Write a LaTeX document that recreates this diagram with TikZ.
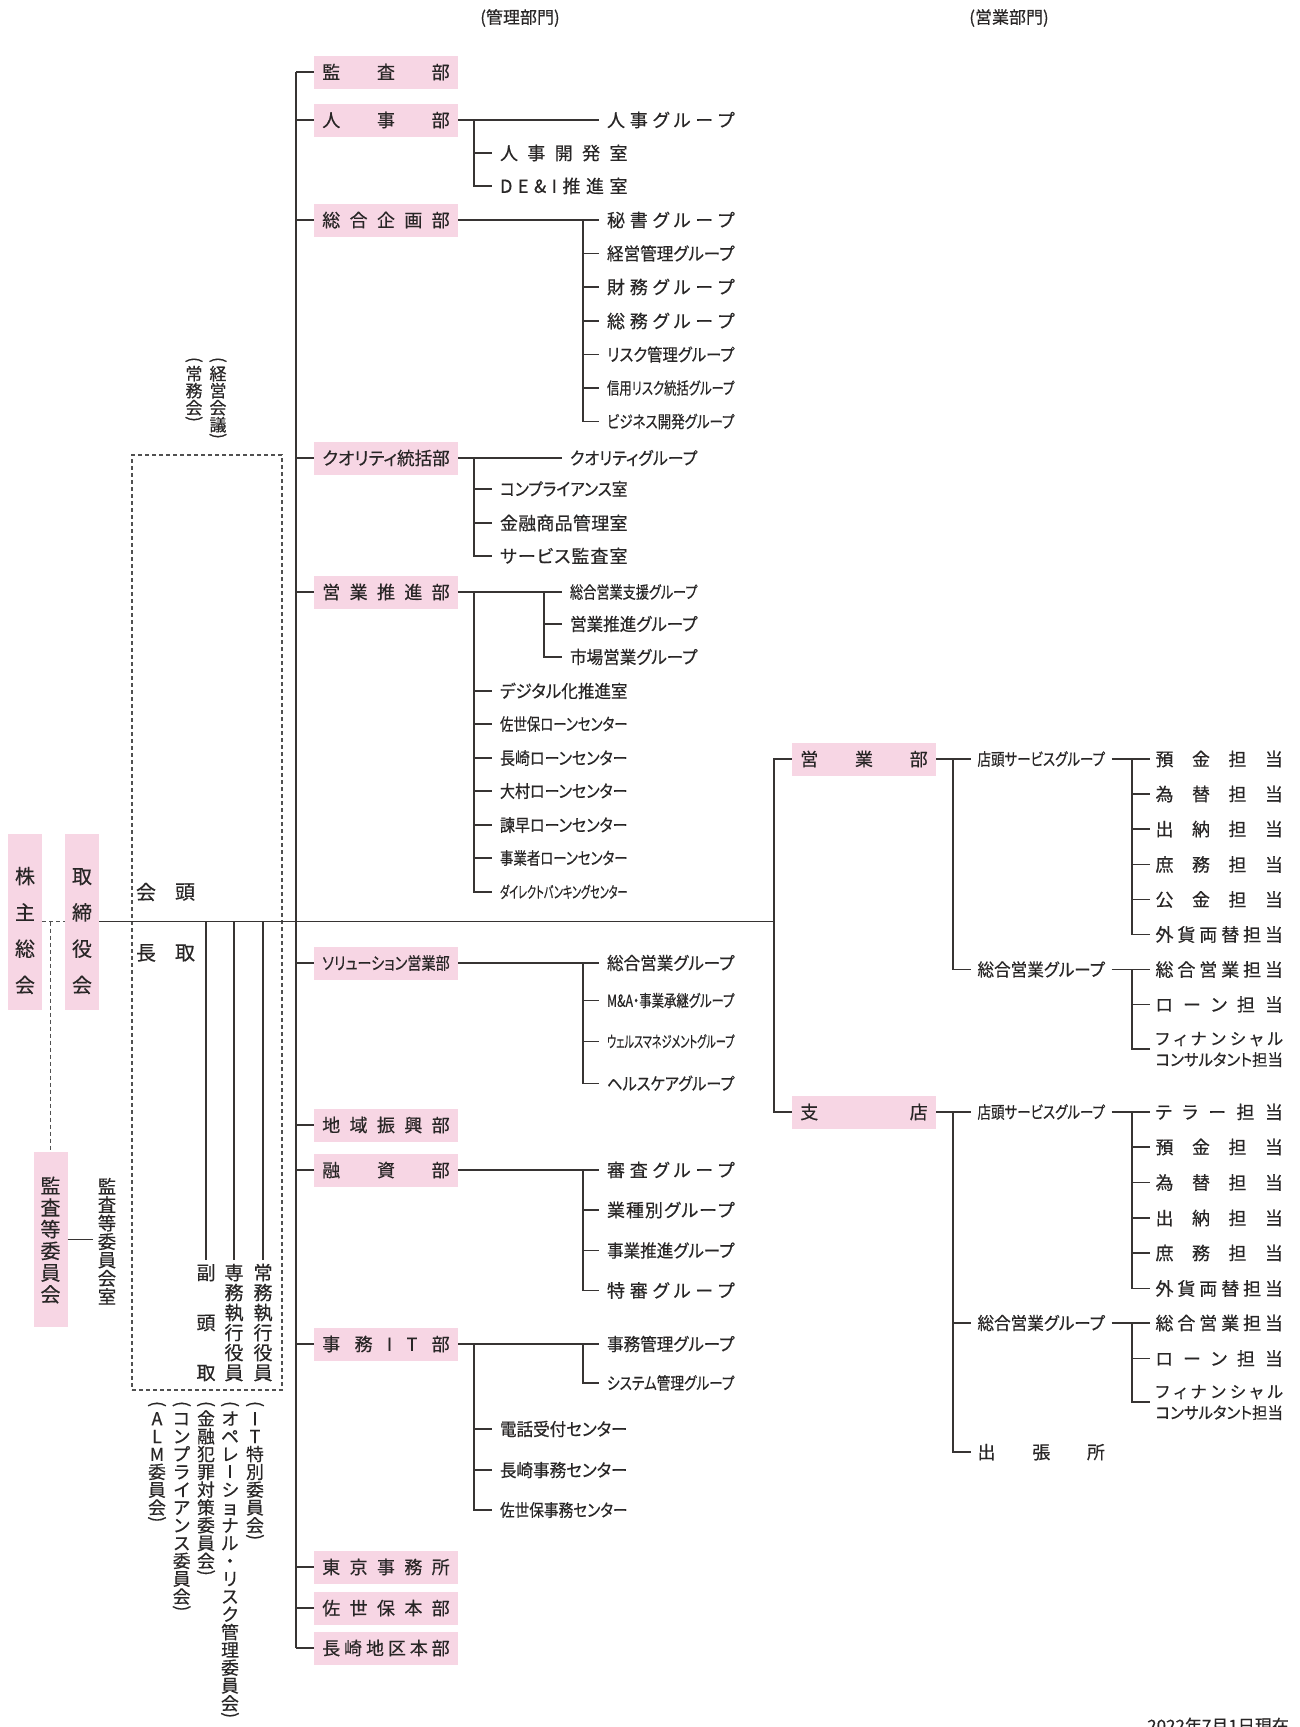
\documentclass[tikz,border=0pt]{standalone}
\usepackage{fontspec}
\usepackage{graphicx}
\setmainfont[RawFeature=+palt, FakeBold=0.4]{Noto Sans CJK JP}
\definecolor{pinkc}{RGB}{247,214,228}
\definecolor{linec}{RGB}{55,52,51}
\definecolor{txtc}{RGB}{40,38,38}
\definecolor{dashc}{RGB}{80,80,80}
\newcommand\fs[1]{\fontsize{#1}{#1}\selectfont}
\newcommand\mystrut{\vrule height .88em depth .12em width 0pt\relax}
\ExplSyntaxOn
\box_new:N \l_my_fit_box
\tl_new:N \l_my_h_tl
\tl_new:N \l_my_v_tl
\NewDocumentCommand \jt { m m }
  {
    \hbox_to_wd:nn {#1}
      { \mystrut \tl_map_inline:nn {#2} { ##1 \hfill } \unskip }
  }
\NewDocumentCommand \fitw { m m }
  {
    \hbox_set:Nn \l_my_fit_box { \mystrut #2 }
    \dim_compare:nNnTF { \box_wd:N \l_my_fit_box } > { #1 }
      {
        \tl_set:Nx \l_my_h_tl
          { \fp_eval:n { \dim_to_fp:n {#1} / \dim_to_fp:n { \box_wd:N \l_my_fit_box } } }
        \tl_set:Nx \l_my_v_tl { \fp_eval:n { ( \l_my_h_tl ) ^ ( 0.2 ) } }
        \scalebox { \l_my_h_tl } [ \l_my_v_tl ] { \box_use:N \l_my_fit_box }
      }
      { \jt {#1} {#2} }
  }
\cs_new_protected:Npn \my_vchar:n #1
  {
    \str_case:nnF {#1}
      {
        { ( } { \hbox_to_wd:nn {1em} { \hss \rotatebox [origin=c] {-90} {(} \hss } }
        { ) } { \hbox_to_wd:nn {1em} { \hss \rotatebox [origin=c] {-90} {)} \hss } }
        { ー } { \hbox_to_wd:nn {1em} { \hss \mystrut \vrule height .79em depth -.03em width .07em \hss } }
      }
      { \hbox_to_wd:nn {1em} { \hss \mystrut #1 \hss } }
  }
\NewDocumentCommand \vtxt { O{0pt} m }
  {
    \vbox:n
      {
        \offinterlineskip
        \tl_map_inline:nn {#2} { \my_vchar:n {##1} \kern #1 \scan_stop: }
        \unkern
      }
  }
\ExplSyntaxOff
\newcommand\W[1]{\fitw{127.5pt}{#1}}
\tikzset{
  ln/.style={draw=linec, line width=1.6pt},
  dln/.style={draw=dashc, line width=1.1pt, dash pattern=on 4pt off 3pt},
  pbox/.style={fill=pinkc, inner xsep=8.25pt, inner ysep=0pt, minimum height=33pt, text=txtc, font=\fs{18}},
  pvbox/.style={fill=pinkc, minimum width=34pt, inner sep=0pt},
  leaf/.style={anchor=west, inner sep=0pt, outer xsep=#1, outer ysep=0pt, text=txtc, font=\fs{18}},
  leaf/.default=8.5pt,
  vt/.style={inner sep=0pt, outer sep=0pt, text=txtc},
  hdr/.style={inner sep=0pt, text=txtc, font=\fs{17}},
}
\begin{document}
\begin{tikzpicture}[x=1pt,y=-1pt]
\fill[white] (0,0) rectangle (1299,1727);
\useasboundingbox (0,0) rectangle (1299,1727);
\clip (0,0) rectangle (1299,1727);
% coordinates for buses
\coordinate (trunk) at (296,0);
\coordinate (bA) at (474,0);
\coordinate (bB) at (583,0);
\coordinate (bC) at (544,0);
\coordinate (rbus) at (774,0);
\coordinate (rb1) at (953,0);
\coordinate (rb2) at (1131.7,0);
% headers
\node[hdr] (hdrK) at (520,18) {(管理部門)};
\node[hdr] (hdrE) at (1009,18) {(営業部門)};
% dashed management box
\node[dln, minimum width=150pt, minimum height=935pt, inner sep=0pt] (kaigi) at (207,922.5) {};
\node[vt, anchor=north, font=\fs{17}] (keieiK) at (218,357) {\vtxt{(経営会議)}};
\node[vt, anchor=north, font=\fs{17}] (jomuK) at (194,357) {\vtxt{(常務会)}};
% left boxes
\node[pvbox, minimum height=176pt] (kabu) at (25,921.5) {};
\node[vt, font=\fs{20}] (kabuT) at (25,930.5) {\vtxt[16.3pt]{株主総会}};
\node[pvbox, minimum height=176pt] (tori) at (82,921.5) {};
\node[vt, font=\fs{20}] (toriT) at (82,930.5) {\vtxt[16.3pt]{取締役会}};
\node[pvbox, minimum height=175pt] (kansaI) at (50.5,1239.5) {};
\node[vt, font=\fs{20}] (kansaIT) at (50.5,1240) {\vtxt[1.7pt]{監査等委員会}};
\node[vt, font=\fs{18.4}, outer xsep=4.8pt] (room) at (107,1241.5) {\vtxt{監査等委員会室}};
% chairman / president
\node[vt, font=\fs{20}] (kaiT) at (146,892) {会};
\node[vt, font=\fs{20}] (toT) at (185,892) {頭};
\node[vt, font=\fs{20}] (choT) at (146,953) {長};
\node[vt, font=\fs{20}] (doriT) at (185,953) {取};
% executives
\node[vt, anchor=north, outer ysep=3pt, font=\fs{19}] (fuku) at (206,1260) {\vtxt[31pt]{副頭取}};
\node[vt, anchor=north, outer ysep=3pt, font=\fs{19}] (senmu) at (234,1260) {\vtxt[1pt]{専務執行役員}};
\node[vt, anchor=north, outer ysep=3pt, font=\fs{19}] (jomu) at (263,1260) {\vtxt[1pt]{常務執行役員}};
% committees
\node[vt, anchor=north, font=\fs{17.8}] (itC) at (255,1401) {\vtxt{(IT特別委員会)}};
\node[vt, anchor=north, font=\fs{17.8}] (opC) at (230,1401) {\vtxt{(オペレーショナル・リスク管理委員会)}};
\node[vt, anchor=north, font=\fs{17.8}] (finC) at (206,1401) {\vtxt{(金融犯罪対策委員会)}};
\node[vt, anchor=north, font=\fs{17.8}] (compC) at (181.7,1401) {\vtxt{(コンプライアンス委員会)}};
\node[vt, anchor=north, font=\fs{17.8}] (almC) at (157,1401) {\vtxt{(ALM委員会)}};
% department boxes
\node[pbox] (kansa) at (386,72) {\W{監査部}};
\node[pbox] (jinji) at (386,120) {\W{人事部}};
\node[pbox] (kikaku) at (386,220) {\W{総合企画部}};
\node[pbox] (quality) at (386,458) {\W{クオリティ統括部}};
\node[pbox] (suishin) at (386,592) {\W{営業推進部}};
\node[pbox] (solution) at (386,963) {\W{ソリューション営業部}};
\node[pbox] (chiiki) at (386,1125) {\W{地域振興部}};
\node[pbox] (yushi) at (386,1170) {\W{融資部}};
\node[pbox] (jimu) at (386,1344) {\W{事務IT部}};
\node[pbox] (tokyo) at (386,1567) {\W{東京事務所}};
\node[pbox] (sasebo) at (386,1608) {\W{佐世保本部}};
\node[pbox] (nagaHQ) at (386,1648) {\W{長崎地区本部}};
% column A
\node[leaf] (kaihatsu) at (491.5,153) {\W{人事開発室}};
\node[leaf] (dei) at (491.5,186) {\W{DE\&I推進室}};
\node[leaf] (compl) at (491.5,489) {\W{コンプライアンス室}};
\node[leaf] (kinyu) at (491.5,523) {\W{金融商品管理室}};
\node[leaf] (service) at (491.5,556) {\W{サービス監査室}};
\node[leaf] (digital) at (491.5,691) {\W{デジタル化推進室}};
\node[leaf] (sasebL) at (491.5,724) {\W{佐世保ローンセンター}};
\node[leaf] (nagaL) at (491.5,758) {\W{長崎ローンセンター}};
\node[leaf] (omura) at (491.5,791) {\W{大村ローンセンター}};
\node[leaf] (isahaya) at (491.5,825) {\W{諫早ローンセンター}};
\node[leaf] (jigyoL) at (491.5,858) {\W{事業者ローンセンター}};
\node[leaf] (direct) at (491.5,892) {\W{ダイレクトバンキングセンター}};
\node[leaf] (denwa) at (491.5,1429) {\W{電話受付センター}};
\node[leaf] (nagaJ) at (491.5,1470) {\W{長崎事務センター}};
\node[leaf] (sasebJ) at (491.5,1510) {\W{佐世保事務センター}};
% column B
\node[leaf] (jinjiG) at (598.5,120) {\W{人事グループ}};
\node[leaf] (hisho) at (598.5,220) {\W{秘書グループ}};
\node[leaf] (keiei) at (598.5,253.5) {\W{経営管理グループ}};
\node[leaf] (zaimu) at (598.5,287) {\W{財務グループ}};
\node[leaf] (somu) at (598.5,321) {\W{総務グループ}};
\node[leaf] (risk) at (598.5,354.5) {\W{リスク管理グループ}};
\node[leaf] (shinyo) at (598.5,388) {\W{信用リスク統括グループ}};
\node[leaf] (bizdev) at (598.5,421.5) {\W{ビジネス開発グループ}};
\node[leaf] (sogoG) at (598.5,963) {\W{総合営業グループ}};
\node[leaf] (ma) at (598.5,1000.5) {\W{M\&A・事業承継グループ}};
\node[leaf] (wealth) at (598.5,1041.5) {\W{ウェルスマネジメントグループ}};
\node[leaf] (health) at (598.5,1083.5) {\W{ヘルスケアグループ}};
\node[leaf] (shinsa) at (598.5,1170) {\W{審査グループ}};
\node[leaf] (gyoshu) at (598.5,1210) {\W{業種別グループ}};
\node[leaf] (jigyoS) at (598.5,1250.5) {\W{事業推進グループ}};
\node[leaf] (tokushin) at (598.5,1290.5) {\W{特審グループ}};
\node[leaf] (jimuK) at (598.5,1344) {\W{事務管理グループ}};
\node[leaf] (system) at (598.5,1383) {\W{システム管理グループ}};
% column C
\node[leaf] (qualityG) at (561.5,458) {\W{クオリティグループ}};
\node[leaf] (sogoshien) at (561.5,592) {\W{総合営業支援グループ}};
\node[leaf] (suishinG) at (561.5,624) {\W{営業推進グループ}};
\node[leaf] (shijo) at (561.5,657) {\W{市場営業グループ}};
% right side boxes
\node[pbox] (eigyobu) at (864,759) {\W{営業部}};
\node[pbox] (shiten) at (864,1112) {\W{支店}};
% right groups
\node[leaf=6.5pt] (tentou1) at (971,759) {\W{店頭サービスグループ}};
\node[leaf=6.5pt] (sogo1) at (971,969.5) {\W{総合営業グループ}};
\node[leaf=6.5pt] (tentou2) at (971,1112) {\W{店頭サービスグループ}};
\node[leaf=6.5pt] (sogo2) at (971,1323) {\W{総合営業グループ}};
\node[leaf=6.5pt] (shucho) at (971,1452) {\W{出張所}};
% right leaves
\node[leaf=6pt] (yokin1) at (1149.5,759) {\W{預金担当}};
\node[leaf=6pt] (kawase1) at (1149.5,794) {\W{為替担当}};
\node[leaf=6pt] (suito1) at (1149.5,829) {\W{出納担当}};
\node[leaf=6pt] (shomu1) at (1149.5,864.5) {\W{庶務担当}};
\node[leaf=6pt] (kokin1) at (1149.5,899.5) {\W{公金担当}};
\node[leaf=6pt] (gaika1) at (1149.5,934.5) {\W{外貨両替担当}};
\node[leaf=6pt] (sogoT1) at (1149.5,969.5) {\W{総合営業担当}};
\node[leaf=6pt] (loan1) at (1149.5,1004.5) {\W{ローン担当}};
\node[leaf=6pt, align=left, font=\fs{16.5}] (fin1) at (1149.5,1049) {\W{フィナンシャル}\\[4.5pt]\W{コンサルタント担当}};
\node[leaf=6pt] (teller) at (1149.5,1112) {\W{テラー担当}};
\node[leaf=6pt] (yokin2) at (1149.5,1147) {\W{預金担当}};
\node[leaf=6pt] (kawase2) at (1149.5,1182.5) {\W{為替担当}};
\node[leaf=6pt] (suito2) at (1149.5,1218) {\W{出納担当}};
\node[leaf=6pt] (shomu2) at (1149.5,1253) {\W{庶務担当}};
\node[leaf=6pt] (gaika2) at (1149.5,1288.5) {\W{外貨両替担当}};
\node[leaf=6pt] (sogoT2) at (1149.5,1323) {\W{総合営業担当}};
\node[leaf=6pt] (loan2) at (1149.5,1358.5) {\W{ローン担当}};
\node[leaf=6pt, align=left, font=\fs{16.5}] (fin2) at (1149.5,1402) {\W{フィナンシャル}\\[4.5pt]\W{コンサルタント担当}};
% date
\node[inner sep=0pt, anchor=base west, text=txtc, font=\fs{17}] (date) at (1147,1732) {2022年7月1日現在};
% ---------- connectors ----------
\draw[dln] (kabu.east) -- (tori.west);
\draw[dln] (kansaI.north |- kabu.east) -- (kansaI.north);
\draw[ln] (kansaI.east) -- (kansaI.east -| room.west);
\draw[ln] (tori.east) -- (rbus |- tori.east);
\foreach \n in {fuku,senmu,jomu} \draw[ln] (\n.north |- tori.east) -- (\n.north);
% trunk
\draw[ln] (trunk |- kansa.west) -- (trunk |- nagaHQ.west);
\foreach \n in {kansa,jinji,kikaku,quality,suishin,solution,chiiki,yushi,jimu,tokyo,sasebo,nagaHQ}
  \draw[ln] (trunk |- \n.west) -- (\n.west);
% jinji
\draw[ln] (jinji.east) -- (jinjiG.west);
\draw[ln] (bA |- jinji.east) |- (dei.west);
\draw[ln] (bA |- kaihatsu.west) -- (kaihatsu.west);
% kikaku
\draw[ln] (kikaku.east) -- (hisho.west);
\draw[ln] (bB |- hisho.west) |- (bizdev.west);
\foreach \n in {keiei,zaimu,somu,risk,shinyo} \draw[ln] (bB |- \n.west) -- (\n.west);
% quality
\draw[ln] (quality.east) -- (qualityG.west);
\draw[ln] (bA |- quality.east) |- (service.west);
\foreach \n in {compl,kinyu} \draw[ln] (bA |- \n.west) -- (\n.west);
% suishin
\draw[ln] (suishin.east) -- (sogoshien.west);
\draw[ln] (bC |- sogoshien.west) |- (shijo.west);
\draw[ln] (bC |- suishinG.west) -- (suishinG.west);
\draw[ln] (bA |- suishin.east) |- (direct.west);
\foreach \n in {digital,sasebL,nagaL,omura,isahaya,jigyoL} \draw[ln] (bA |- \n.west) -- (\n.west);
% solution
\draw[ln] (solution.east) -- (sogoG.west);
\draw[ln] (bB |- sogoG.west) |- (health.west);
\foreach \n in {ma,wealth} \draw[ln] (bB |- \n.west) -- (\n.west);
% yushi
\draw[ln] (yushi.east) -- (shinsa.west);
\draw[ln] (bB |- shinsa.west) |- (tokushin.west);
\foreach \n in {gyoshu,jigyoS} \draw[ln] (bB |- \n.west) -- (\n.west);
% jimu IT
\draw[ln] (jimu.east) -- (jimuK.west);
\draw[ln] (bB |- jimuK.west) |- (system.west);
\draw[ln] (bA |- jimu.east) |- (sasebJ.west);
\foreach \n in {denwa,nagaJ} \draw[ln] (bA |- \n.west) -- (\n.west);
% right bus
\draw[ln] (eigyobu.west) -- (rbus |- eigyobu.west) -- (rbus |- shiten.west) -- (shiten.west);
% eigyobu
\draw[ln] (eigyobu.east) -- (tentou1.west);
\draw[ln] (rb1 |- eigyobu.east) |- (sogo1.west);
\draw[ln] (tentou1.east) -- (yokin1.west);
\draw[ln] (rb2 |- yokin1.west) |- (gaika1.west);
\foreach \n in {kawase1,suito1,shomu1,kokin1} \draw[ln] (rb2 |- \n.west) -- (\n.west);
\draw[ln] (sogo1.east) -- (sogoT1.west);
\draw[ln] (rb2 |- sogoT1.west) |- (fin1.west);
\draw[ln] (rb2 |- loan1.west) -- (loan1.west);
% shiten
\draw[ln] (shiten.east) -- (tentou2.west);
\draw[ln] (rb1 |- shiten.east) |- (shucho.west);
\draw[ln] (rb1 |- sogo2.west) -- (sogo2.west);
\draw[ln] (tentou2.east) -- (teller.west);
\draw[ln] (rb2 |- teller.west) |- (gaika2.west);
\foreach \n in {yokin2,kawase2,suito2,shomu2} \draw[ln] (rb2 |- \n.west) -- (\n.west);
\draw[ln] (sogo2.east) -- (sogoT2.west);
\draw[ln] (rb2 |- sogoT2.west) |- (fin2.west);
\draw[ln] (rb2 |- loan2.west) -- (loan2.west);
\end{tikzpicture}
\end{document}
